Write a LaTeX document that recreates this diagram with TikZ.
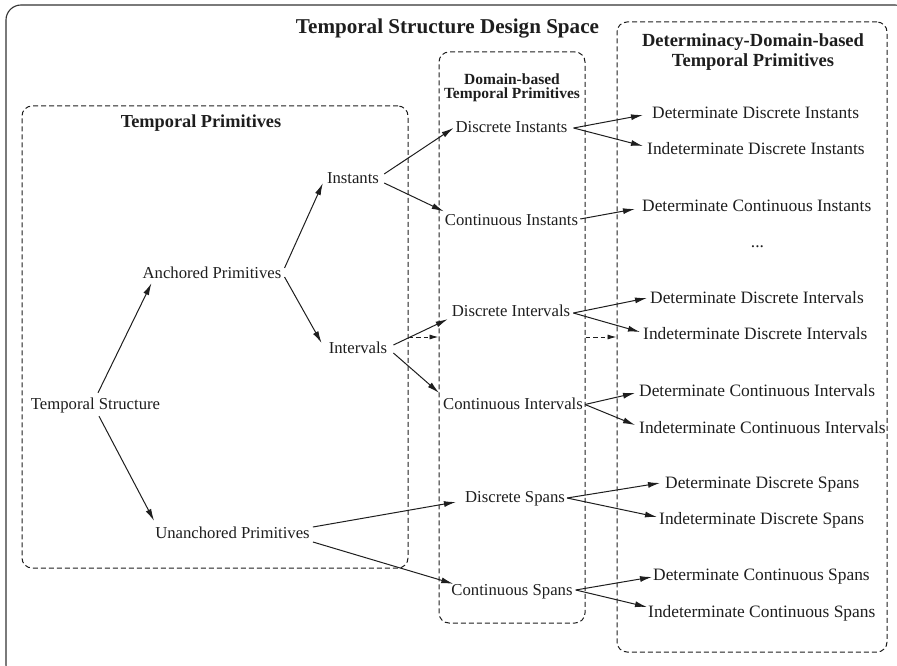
\documentclass[tikz,border=0pt]{standalone}
\usepackage{fontspec}
\setmainfont{Liberation Serif}
\usetikzlibrary{arrows.meta}

\definecolor{ink}{HTML}{1E1E1E}

\tikzset{
  lbl/.style={font=\fontsize{16.7}{18}\selectfont, text=ink, inner sep=0pt,
              text height=11pt, text depth=0pt},
  rlbl/.style={font=\fontsize{17.4}{19}\selectfont, text=ink, inner sep=0pt,
               text height=11.5pt, text depth=0pt, anchor=west},
  conn/.style={draw=ink, line width=1pt, -{Latex[length=12pt,width=6pt]}},
  link/.style={draw=ink, line width=0.9pt, dash pattern=on 4.5pt off 3pt,
               -{Latex[length=9pt,width=5pt]}},
  grp/.style={draw=ink, line width=1pt, dash pattern=on 5pt off 3pt,
              rounded corners=10pt, inner sep=0pt},
  frametitle/.style={font=\bfseries\fontsize{#1}{#1}\selectfont, text=ink,
                     inner sep=0pt, align=center},
}

\begin{document}
\begin{tikzpicture}[x=1pt, y=-1pt]
  \useasboundingbox (0,0) rectangle (897,666);

  % outer frame of the design space
  \draw[draw=black!80, line width=1.1pt, rounded corners=15pt] (6,5) rectangle (910,680);
  \node[frametitle=21.1, text height=14pt, text depth=0pt] (title) at (447.5,26.5)
    {Temporal Structure Design Space};

  % the three groups
  \node[grp, minimum width=386pt, minimum height=462pt] (tpbox) at (215,337) {};
  \node[grp, minimum width=146pt, minimum height=571pt] (dbbox) at (512,337.5) {};
  \node[grp, minimum width=270pt, minimum height=630pt] (ddbox) at (752,337) {};

  \node[frametitle=18.3, text height=12.1pt, text depth=0pt] (tptitle) at (201,121.5)
    {Temporal Primitives};
  % two-line titles, placed by the baseline of their last line
  \node[font=\bfseries\fontsize{15.5}{14.6}\selectfont, text=ink, inner sep=0pt,
        align=center, anchor=base] (dbtitle) at (512,99)
    {Domain-based\\Temporal Primitives};
  \node[font=\bfseries\fontsize{18.5}{20}\selectfont, text=ink, inner sep=0pt,
        align=center, anchor=base] (ddtitle) at (753,66.7)
    {Determinacy-Domain-based\\Temporal Primitives};

  % temporal primitives
  \node[lbl] (ts)   at (95.5,403.5) {Temporal Structure};
  \node[lbl] (ap)   at (212,272.5)  {Anchored Primitives};
  \node[lbl] (uap)  at (232.5,533)  {Unanchored Primitives};
  \node[lbl] (inst) at (353,177.5)  {Instants};
  \node[lbl] (intv) at (358,347.5)  {Intervals};

  % domain-based primitives
  \node[lbl] (di)  at (511.5,127.5) {Discrete Instants};
  \node[lbl] (ci)  at (511.5,219.5) {Continuous Instants};
  \node[lbl] (div) at (511,311)     {Discrete Intervals};
  \node[lbl] (civ) at (513,404)     {Continuous Intervals};
  \node[lbl] (ds)  at (515,497)     {Discrete Spans};
  \node[lbl] (cs)  at (512,589.5)   {Continuous Spans};

  % determinacy-domain-based primitives
  \node[rlbl] (ddi)  at (652,112.5) {Determinate Discrete Instants};
  \node[rlbl] (idi)  at (647,148.5) {Indeterminate Discrete Instants};
  \node[rlbl] (dci)  at (642,205.5) {Determinate Continuous Instants};
  \node[rlbl, anchor=base] (dots) at (757.5,247) {...};
  \node[rlbl] (ddiv) at (650,297.5) {Determinate Discrete Intervals};
  \node[rlbl] (idiv) at (643,334)   {Indeterminate Discrete Intervals};
  \node[rlbl] (dciv) at (639,390.5) {Determinate Continuous Intervals};
  \node[rlbl] (iciv) at (639,427.5) {Indeterminate Continuous Intervals};
  \node[rlbl] (dds)  at (665,483)   {Determinate Discrete Spans};
  \node[rlbl] (ids)  at (659,519)   {Indeterminate Discrete Spans};
  \node[rlbl] (dcs)  at (653,575)   {Determinate Continuous Spans};
  \node[rlbl] (ics)  at (648,611.5) {Indeterminate Continuous Spans};

  % refinement arrows
  \draw[conn] ([shift={(2.5,-5)}]ts.north) -- ([shift={(9,5)}]ap.south west);
  \draw[conn] ([shift={(3.5,7)}]ts.south) -- ([shift={(-1,-6.5)}]uap.north west);
  \draw[conn] ([shift={(3,-4.5)}]ap.east) -- ([shift={(-4,0)}]inst.south west);
  \draw[conn] ([shift={(3,4.5)}]ap.east) -- ([shift={(-7,-4.5)}]intv.west);

  \draw[conn] ([shift={(5,-3.5)}]inst.east) -- ([shift={(-2,0.5)}]di.west);
  \draw[conn] ([shift={(5,5.5)}]inst.east) -- ([shift={(-1,-2.5)}]ci.north west);
  \draw[conn] ([shift={(6,-2.5)}]intv.east) -- ([shift={(-4,2.5)}]div.south west);
  \draw[conn] ([shift={(6,5.5)}]intv.east) -- ([shift={(-4,-5.5)}]civ.north west);
  \draw[conn] ([shift={(3,-6)}]uap.east) -- ([shift={(-9,5)}]ds.west);
  \draw[conn] ([shift={(3,9)}]uap.east) -- ([shift={(2,0)}]cs.north west);

  \draw[conn] ([shift={(6,0.5)}]di.east) -- ([shift={(-9,2.5)}]ddi.west);
  \draw[conn] ([shift={(6,0.5)}]di.east) -- ([shift={(-4,-2.5)}]idi.west);
  \draw[conn] ([shift={(2,-0.5)}]ci.east) -- ([shift={(-7,3.5)}]dci.west);
  \draw[conn] ([shift={(3,2)}]div.east) -- ([shift={(-3,0.5)}]ddiv.west);
  \draw[conn] ([shift={(3,2)}]div.east) -- ([shift={(-3,-2)}]idiv.west);
  \draw[conn] ([shift={(2,0.5)}]civ.east) -- ([shift={(-4,2.5)}]dciv.west);
  \draw[conn] ([shift={(2,0.5)}]civ.east) -- ([shift={(-4,-2.5)}]iciv.west);
  \draw[conn] ([shift={(2,1)}]ds.east) -- ([shift={(-5,0)}]dds.west);
  \draw[conn] ([shift={(2,1)}]ds.east) -- ([shift={(-2,-2)}]ids.west);
  \draw[conn] ([shift={(3,0.5)}]cs.east) -- ([shift={(-1,2)}]dcs.west);
  \draw[conn] ([shift={(3,0.5)}]cs.east) -- ([shift={(-1,-4.5)}]ics.west);

  % links between the groups
  \coordinate (lvl) at (0,337);
  \draw[link] (tpbox.east |- lvl) -- (dbbox.west |- lvl);
  \draw[link] (dbbox.east |- lvl) -- (ddbox.west |- lvl);
\end{tikzpicture}
\end{document}
